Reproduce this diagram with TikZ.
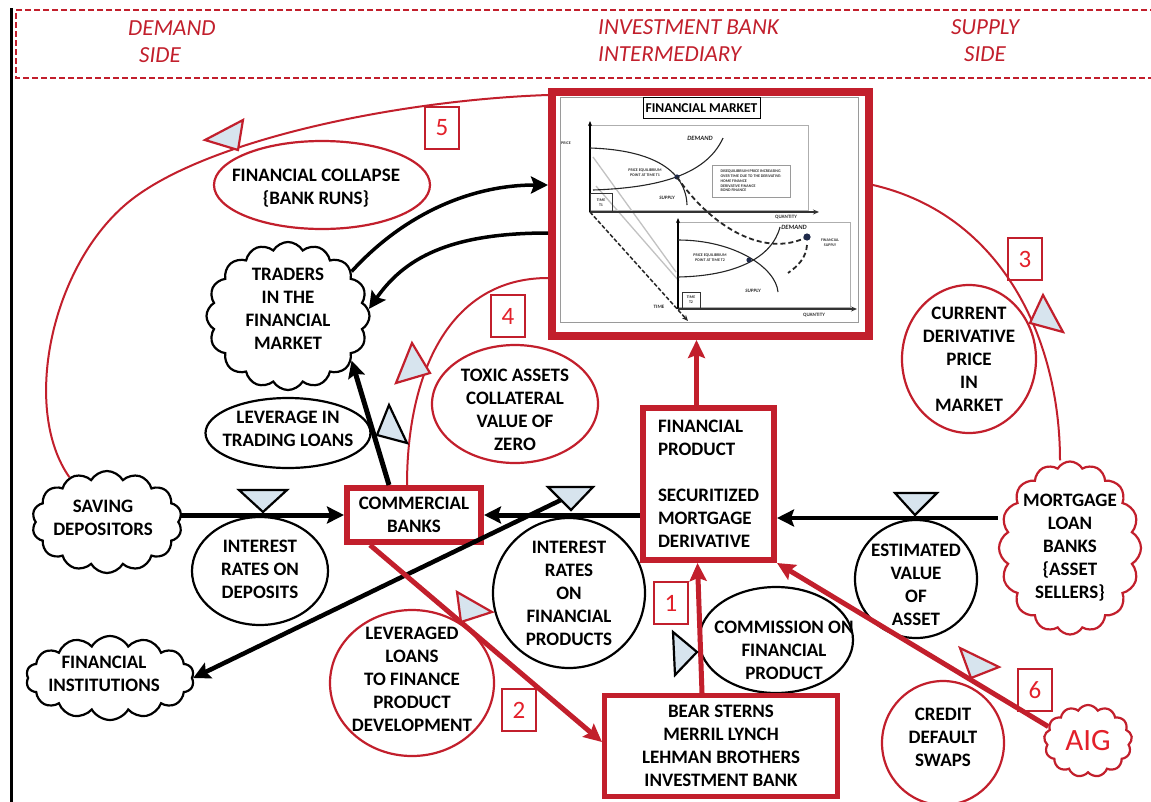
\documentclass[tikz,border=0pt]{standalone}
\usepackage{fontspec}
\setmainfont{Carlito}
\usetikzlibrary{shapes.symbols,shapes.geometric,arrows.meta,calc}
\definecolor{sdred}{HTML}{C21F2C}
\definecolor{numred}{HTML}{E3202A}
\definecolor{valvefill}{HTML}{D7E4EE}
\definecolor{chartgray}{HTML}{9A9A9A}
\definecolor{dotblue}{HTML}{1F2A4A}

\begin{document}
\begin{tikzpicture}[x=1pt,y=-1pt,
  lbl/.style={font=\bfseries\fontsize{19}{23}\selectfont, align=center, text=black, inner sep=0pt},
  blkell/.style={ellipse, draw=black, line width=2.2pt, inner sep=0pt},
  redell/.style={ellipse, draw=sdred, line width=2.2pt, inner sep=0pt},
  blkcloud/.style={cloud, cloud puffs=14, cloud puff arc=120, cloud ignores aspect, draw=black, line width=2.2pt, inner sep=0pt},
  redcloud/.style={cloud, cloud puffs=16, cloud puff arc=120, cloud ignores aspect, draw=sdred, line width=2.2pt, inner sep=0pt},
  redbox/.style={rectangle, draw=sdred, line width=6pt, inner sep=0pt},
  numbox/.style={rectangle, draw=sdred, line width=2.6pt, minimum width=34pt, minimum height=42pt, inner sep=0pt, text=numred, font=\fontsize{25}{25}\selectfont},
  flow/.style={draw=black, line width=5pt, -{Stealth[length=17pt,width=17pt,inset=3pt]}},
  redflow/.style={draw=sdred, line width=5pt, -{Stealth[length=18pt,width=17pt,inset=3pt]}},
  loopline/.style={draw=sdred, line width=2pt},
  valve/.style={fill=valvefill, draw=black, line width=2.2pt, line join=miter},
  redvalve/.style={fill=valvefill, draw=sdred, line width=2.2pt, line join=miter},
  hdr/.style={font=\itshape\fontsize{23}{27}\selectfont, text=sdred, inner sep=0pt},
  ctxt/.style={font=\bfseries\fontsize{4}{4.8}\selectfont, inner sep=0pt, align=left, text=black!80},
  cital/.style={font=\bfseries\itshape\fontsize{6.5}{7}\selectfont, inner sep=0pt, text=black!85},
]
\useasboundingbox (0,0) rectangle (1151,801);
\fill[white] (0,0) rectangle (1151,801);

% header band
\draw[sdred, line width=2.6pt, dash pattern=on 6pt off 3pt] (1165,10) -- (16,10) -- (16,78) -- (1165,78);
\draw[black, line width=3pt] (11,8) -- (11,805);
\node[hdr, anchor=west] (hdDemand) at (128,28) {DEMAND};
\node[hdr, anchor=west] (hdDemandSide) at (139,55) {SIDE};
\node[hdr, anchor=north west, align=left] (hdBank) at (598,19) {INVESTMENT BANK\\INTERMEDIARY};
\node[hdr, anchor=north, align=center] (hdSupply) at (985,19) {SUPPLY\\SIDE};

% financial market panel
\node[rectangle, draw=sdred, line width=8pt, minimum width=317pt, minimum height=244pt, fill=white] (fm) at (710.5,214) {};
\draw[chartgray, line width=0.8pt] (560,97) rectangle (858,322);
\node[draw=black, line width=1pt, minimum width=117pt, minimum height=21pt, inner sep=0pt, font=\bfseries\fontsize{13.5}{14}\selectfont] (mtitle) at (701.5,108) {FINANCIAL MARKET};
% upper chart, time T1
\draw[chartgray!80, line width=0.7pt] (590,125) rectangle (808,210);
\draw[chartgray!60, line width=1.3pt] (593,157) -- (676,272);
\draw[chartgray!60, line width=1.3pt] (596,186) -- (679,281);
\draw[black, line width=1.3pt, -{Stealth[length=5pt,width=4pt]}] (590,212) -- (590,121);
\draw[black!80, line width=2pt, -{Stealth[length=6pt,width=5pt]}] (590,212) -- (819,212);
\draw[black!85, line width=1.1pt] (593,190) .. controls (650,188) and (705,178) .. (723,138);
\draw[black!85, line width=1.1pt] (590,148) .. controls (655,150) and (686,172) .. (687,205);
\fill[dotblue] (677,177) circle (2.6pt);
\node[ctxt] (cPrice) at (566,143) {PRICE};
\node[cital] (cDem1) at (700,138) {DEMAND};
\node[ctxt, align=center] (cEq1) at (645,173) {PRICE EQUILIBRIUM\\POINT AT TIME T1};
\node[cital, font=\bfseries\itshape\fontsize{5}{5}\selectfont] (cSup1) at (667,198) {SUPPLY};
\node[draw=chartgray, line width=0.6pt, ctxt, minimum width=78pt, minimum height=32pt] (cNote) at (751,181) {DISEQUILIBRIUM PRICE INCREASING\\OVER TIME DUE TO THE DERIVATIVE:\\HOME FINANCE\\DERIVATIVE FINANCE\\BOND FINANCE};
\node[draw=black!80, line width=0.8pt, ctxt, align=center, minimum width=22pt, minimum height=19pt] (cT1) at (601,202.5) {TIME\\T1};
\node[ctxt, font=\bfseries\fontsize{5}{5}\selectfont] (cQ1) at (786,217) {QUANTITY};
% lower chart, time T2
\draw[chartgray!80, line width=0.7pt] (678,222) rectangle (850,307);
\draw[black, line width=1.3pt, -{Stealth[length=5pt,width=4pt]}] (678,309) -- (678,218);
\draw[black!80, line width=2pt, -{Stealth[length=6pt,width=5pt]}] (678,309) -- (857,309);
\draw[black!85, line width=1.1pt] (678,277) .. controls (735,276) and (772,258) .. (780,227);
\draw[black!85, line width=1.1pt] (678,240) .. controls (735,240) and (776,268) .. (778,292);
\fill[dotblue] (749,260) circle (2.6pt);
\draw[black!85, line width=1.8pt, dash pattern=on 5pt off 3pt] (677,177) .. controls (712,228) and (765,258) .. (807,237);
\draw[black!85, line width=1.8pt, dash pattern=on 5pt off 3pt] (807,245) .. controls (806,258) and (798,266) .. (788,273);
\fill[dotblue] (807,237) circle (3.6pt);
\draw[black!85, line width=1.5pt, dash pattern=on 4pt off 2pt, -{Stealth[length=6pt,width=5pt]}] (590,212) -- (688,321);
\node[cital] (cDem2) at (794,227) {DEMAND};
\node[ctxt, align=center] (cEq2) at (710,258) {PRICE EQUILIBRIUM\\POINT AT TIME T2};
\node[cital, font=\bfseries\itshape\fontsize{5}{5}\selectfont] (cSup2) at (753,291) {SUPPLY};
\node[ctxt, align=center] (cFin) at (830,243) {FINANCIAL\\SUPPLY};
\node[draw=black!80, line width=0.8pt, ctxt, align=center, minimum width=18pt, minimum height=16pt] (cT2) at (691,300) {TIME\\T2};
\node[ctxt, font=\bfseries\fontsize{5}{5}\selectfont] (cTime) at (659,307) {TIME};
\node[ctxt, font=\bfseries\fontsize{5}{5}\selectfont] (cQ2) at (814,315) {QUANTITY};

% demand side
\node[blkcloud, minimum width=150pt, minimum height=102pt, label={[lbl,xshift=-4pt,yshift=4pt]center:SAVING\\DEPOSITORS}] (sd) at (107,522) {};
\node[blkcloud, minimum width=168pt, minimum height=84pt, label={[lbl,xshift=-6pt,yshift=4pt]center:FINANCIAL\\INSTITUTIONS}] (fi) at (110,678) {};
\node[redell, minimum width=216pt, minimum height=88pt, label={[lbl,xshift=-6pt,yshift=-3pt]center:FINANCIAL COLLAPSE\\\{BANK RUNS\}}] (fc) at (322,185) {};
\node[blkcloud, cloud puffs=16, minimum width=163pt, minimum height=148pt, label={[lbl,yshift=7pt]center:TRADERS\\IN THE\\FINANCIAL\\MARKET}] (tr) at (288,316) {};
\node[blkell, minimum width=165pt, minimum height=70pt, label={[lbl,yshift=4pt]center:LEVERAGE IN\\TRADING LOANS}] (lev) at (288,433) {};
\node[redell, minimum width=166pt, minimum height=118pt, label={[lbl,yshift=-6pt]center:TOXIC ASSETS\\COLLATERAL\\VALUE OF\\ZERO}] (tox) at (515,404) {};
\node[redbox, minimum width=134pt, minimum height=54pt, lbl] (cb) at (414,515) {COMMERCIAL\\BANKS};
\node[blkell, minimum width=136pt, minimum height=108pt, label={[lbl,yshift=2pt]center:INTEREST\\RATES ON\\DEPOSITS}] (ird) at (260,571) {};
\node[blkell, minimum width=152pt, minimum height=150pt, label={[lbl]center:INTEREST\\RATES\\ON\\FINANCIAL\\PRODUCTS}] (irf) at (569,593) {};
\node[redell, minimum width=164pt, minimum height=146pt, label={[lbl,yshift=4pt]center:LEVERAGED\\LOANS\\TO FINANCE\\PRODUCT\\DEVELOPMENT}] (ll) at (412,683) {};

% intermediary
\node[redbox, minimum width=131pt, minimum height=152pt, lbl, align=left] (fp) at (708.5,484) {FINANCIAL\\PRODUCT\\[23pt]SECURITIZED\\MORTGAGE\\DERIVATIVE};
\node[blkell, minimum width=154pt, minimum height=106pt, label={[lbl,xshift=8pt,yshift=-10pt]center:COMMISSION ON\\FINANCIAL\\PRODUCT}] (com) at (776,640) {};
\node[redbox, line width=5pt, minimum width=233pt, minimum height=101pt, lbl] (ib) at (721,746) {BEAR STERNS\\MERRIL LYNCH\\LEHMAN BROTHERS\\INVESTMENT BANK};

% supply side
\node[blkell, minimum width=122pt, minimum height=118pt, label={[lbl,yshift=-6pt]center:ESTIMATED\\VALUE\\OF\\ASSET}] (est) at (916,579) {};
\node[redcloud, minimum width=142pt, minimum height=173pt, label={[lbl]center:MORTGAGE\\LOAN\\BANKS\\\{ASSET\\SELLERS\}}] (mlb) at (1070,548) {};
\node[redell, minimum width=134pt, minimum height=148pt, label={[lbl]center:CURRENT\\DERIVATIVE\\PRICE\\IN\\MARKET}] (cur) at (969,359) {};
\node[redell, minimum width=122pt, minimum height=124pt, label={[lbl,yshift=6pt]center:CREDIT\\DEFAULT\\SWAPS}] (cds) at (943,743) {};
\node[redcloud, cloud puffs=13, minimum width=88pt, minimum height=72pt, label={[font=\fontsize{31}{31}\selectfont, text=numred, inner sep=0pt]center:AIG}] (aig) at (1088,741) {};

% loop numbers
\node[numbox] (n5) at (442,128) {5};
\node[numbox] (n4) at (508,316) {4};
\node[numbox] (n3) at (1025,259) {3};
\node[numbox] (n2) at (519,710) {2};
\node[numbox] (n1) at (671,603) {1};
\node[numbox] (n6) at (1035,690) {6};

% feedback loops
\draw[loopline] (sd.130) .. controls (22,410) and (50,270) .. (125,205) .. controls (200,140) and (400,100) .. ([yshift=-7pt]fm.north west);
\draw[loopline] ([yshift=-64pt]fm.west) .. controls +(-100,0) and +(0,-110) .. ([xshift=-7pt]cb.north);
\draw[loopline] ([yshift=29pt]fm.east) .. controls +(130,30) and +(0,-120) .. ([xshift=-10pt]mlb.north);

% money and product flows
\draw[flow] (sd.east |- cb.west) -- (cb.west);
\draw[flow] (fp.west |- cb.east) -- (cb.east);
\coordinate (fpR) at ([yshift=-34pt]fp.east);
\draw[flow, line width=4.5pt] (mlb.west |- fpR) -- (fpR);
\coordinate (brk) at ($(cb.east)!0.5!(fp.west)$);
\draw[flow, line width=4.5pt] (brk) -- (fi.east);
\draw[flow] ([xshift=-25pt]cb.north) -- (tr.-35);
\draw[flow, line width=3.5pt] (tr.35) .. controls +(50,-55) and +(-80,0) .. ([yshift=29pt]fm.west);
\draw[flow, line width=3.5pt] ([yshift=-19pt]fm.west) .. controls +(-100,0) and +(35,-50) .. (tr.5);

\draw[redflow] ([xshift=-12pt]fp.north) -- ([xshift=-12pt]fp.north |- fm.south);
\draw[redflow] ([xshift=-19pt]ib.north) -- ([xshift=-11pt]fp.south);
\draw[redflow] ([xshift=-44pt]cb.south) -- ([yshift=4pt]ib.west);
\draw[redflow] (aig.160) -- (fp.south east);

% valves and loop markers
\draw[valve] (239,490) -- (287,490) -- (263,512) -- cycle;
\draw[valve] (548,487) -- (593,487) -- (571,510) -- cycle;
\draw[valve] (895,493) -- (937,493) -- (915,515) -- cycle;
\draw[valve] (389,405) -- (377,435) -- (407,443) -- cycle;
\draw[valve] (673,632) -- (697,652) -- (675,675) -- cycle;
\draw[redvalve] (205,140) -- (243,120) -- (238,150) -- cycle;
\draw[redvalve] (412,343) -- (396,383) -- (430,373) -- cycle;
\draw[redvalve] (1043,295) -- (1030,323) -- (1063,332) -- cycle;
\draw[redvalve] (457,592) -- (492,612) -- (461,622) -- cycle;
\draw[redvalve] (960,648) -- (999,667) -- (971,678) -- cycle;
\end{tikzpicture}
\end{document}
